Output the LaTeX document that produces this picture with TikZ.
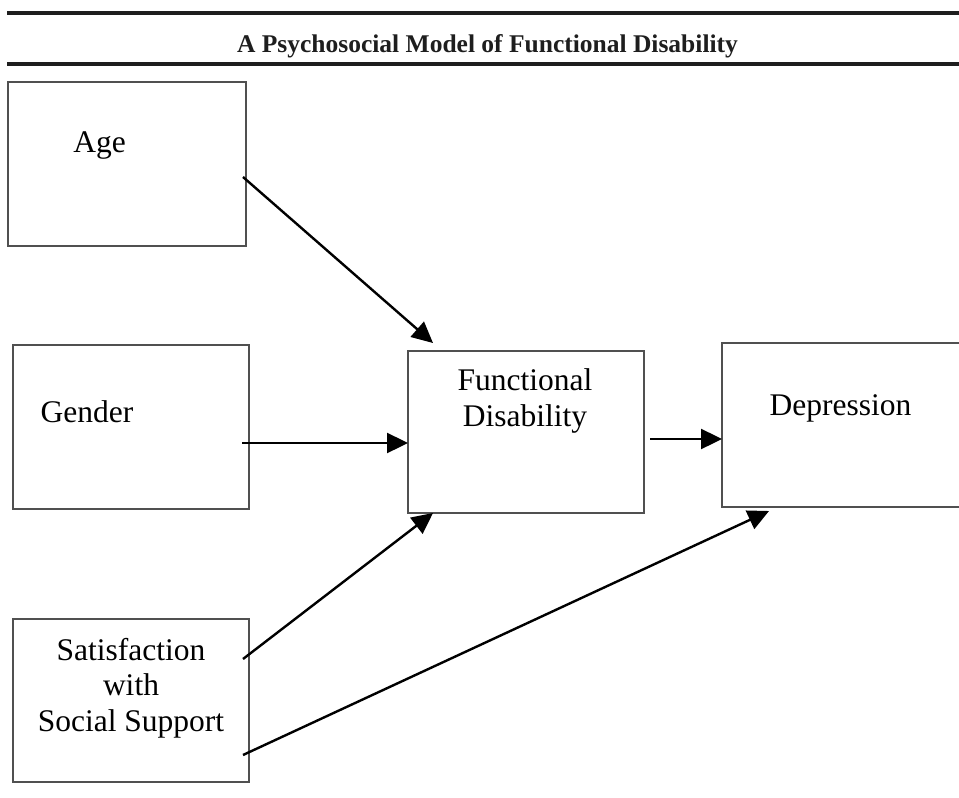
\documentclass[tikz,border=0pt]{standalone}
\usepackage{fontspec}
\setmainfont{Liberation Serif}
\usetikzlibrary{arrows.meta}
\definecolor{rulegray}{HTML}{1E1E1E}
\definecolor{boxgray}{HTML}{505050}

\begin{document}
\begin{tikzpicture}[x=1pt,y=-1pt,
    box/.style={draw=boxgray,line width=1.3pt,rectangle,inner sep=0pt,outer sep=0pt},
    lbl/.style={anchor=base,inner sep=0pt,font=\fontsize{31.5}{36}\selectfont},
    arr/.style={-{Triangle[length=21pt,width=20pt]},line width=2.4pt}]
      \useasboundingbox (0,0) rectangle (959,798);
      % heading
      \draw[rulegray,line width=3.2pt] (7,13) -- (962,13);
      \draw[rulegray,line width=3.2pt] (7,64) -- (962,64);
      \node[anchor=base,inner sep=0pt,text=rulegray,font=\bfseries\fontsize{25.5}{30}\selectfont] (title) at (487.5,52) {A Psychosocial Model of Functional Disability};
      % boxes
      \draw
        (127,164) node[box,minimum width=238pt,minimum height=164pt] (age){}
        (131,427) node[box,minimum width=236pt,minimum height=164pt] (gender){}
        (526,432) node[box,minimum width=236pt,minimum height=162pt] (fd){}
        (842,425) node[box,minimum width=240pt,minimum height=164pt] (dep){}
        (131,700.5) node[box,minimum width=236pt,minimum height=163pt] (sat){};
      % labels
      \draw
        (99.5,152) node[lbl] (agetxt){Age}
        (87,422) node[lbl] (gendertxt){Gender}
        (525,390) node[lbl] (fdtxta){Functional}
        (525,426) node[lbl] (fdtxtb){Disability}
        (840.5,415) node[lbl] (deptxt){Depression}
        (131,660) node[lbl] (sattxta){Satisfaction}
        (131,695) node[lbl] (sattxtb){with}
        (131,731) node[lbl] (sattxtc){Social Support};
      % arrow ends
      \coordinate (agefrom) at (243,177);
      \coordinate (ageto) at (433,343);
      \coordinate (genderfrom) at (242,443);
      \coordinate (genderto) at (408,443);
      \coordinate (fdfrom) at (650,439);
      \coordinate (fdto) at (722,439);
      \coordinate (satfrom) at (243,659);
      \coordinate (satto) at (433,513);
      \coordinate (satfromb) at (243,755);
      \coordinate (sattob) at (769,511);
      \begin{scope}[arr]
        \draw (agefrom) -- (ageto);
        \draw (genderfrom) -- (genderto);
        \draw (fdfrom) -- (fdto);
        \draw (satfrom) -- (satto);
        \draw (satfromb) -- (sattob);
      \end{scope}
    \end{tikzpicture}
\end{document}
